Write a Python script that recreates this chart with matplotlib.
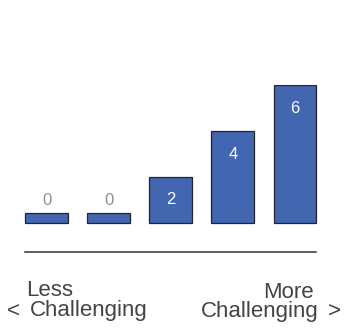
import matplotlib.pyplot as plt

# respuestas por nivel de dificultad (1 = menos, 5 = más)
niveles = [1, 2, 3, 4, 5]
conteos = [0, 0, 2, 4, 6]

color_barra = "#4366b0"
borde = "#262626"
gris_texto = "#444444"
minimo = 0.44   # altura mínima para que las barras en cero se vean

fig = plt.figure(figsize=(3.44, 3.35), dpi=100)
W, H = 344, 335

# ejes colocados en pixeles: base de la línea en y=252, 6 -> y=85
ax = fig.add_axes([15.6 / W, (H - 252) / H, 310.4 / W, (252 - 85.3) / H])
ax.set_xlim(0.5, 5.5)
ax.set_ylim(-1.27, 6)

alturas = [max(c, minimo) for c in conteos]
barras = ax.bar(niveles, alturas, width=0.69, color=color_barra,
                edgecolor=borde, linewidth=0.9)

for x, c, h in zip(niveles, conteos, alturas):
    if c == 0:
        ax.annotate(str(c), (x, h), xytext=(0, 8.5), textcoords="offset points",
                    ha="center", va="center", fontsize=12, color="#8f8f8f",
                    family="Liberation Sans")
    else:
        ax.annotate(str(c), (x, h), xytext=(0, -16.5), textcoords="offset points",
                    ha="center", va="center", fontsize=12, color="white",
                    family="Liberation Sans")

for lado in ["top", "right", "left"]:
    ax.spines[lado].set_visible(False)
ax.spines["bottom"].set_bounds(0.655, 5.345)
ax.spines["bottom"].set_color("#333333")
ax.spines["bottom"].set_linewidth(1.1)
ax.set_xticks([])
ax.set_yticks([])

# etiquetas de los extremos de la escala
fuente = dict(fontsize=16, color=gris_texto, family="Liberation Sans",
              va="baseline")
fig.text(26.5 / W, 1 - 295.7 / H, "Less", ha="left", **fuente)
fig.text(6.5 / W, 1 - 316.3 / H, "<", ha="left", **fuente)
fig.text(29.5 / W, 1 - 316.3 / H, "Challenging", ha="left", **fuente)
fig.text(313.5 / W, 1 - 297.5 / H, "More", ha="right", **fuente)
fig.text(318.5 / W, 1 - 317 / H, "Challenging", ha="right", **fuente)
fig.text(340.5 / W, 1 - 317 / H, ">", ha="right", **fuente)

fig.savefig("out.png", dpi=100)
plt.close(fig)
